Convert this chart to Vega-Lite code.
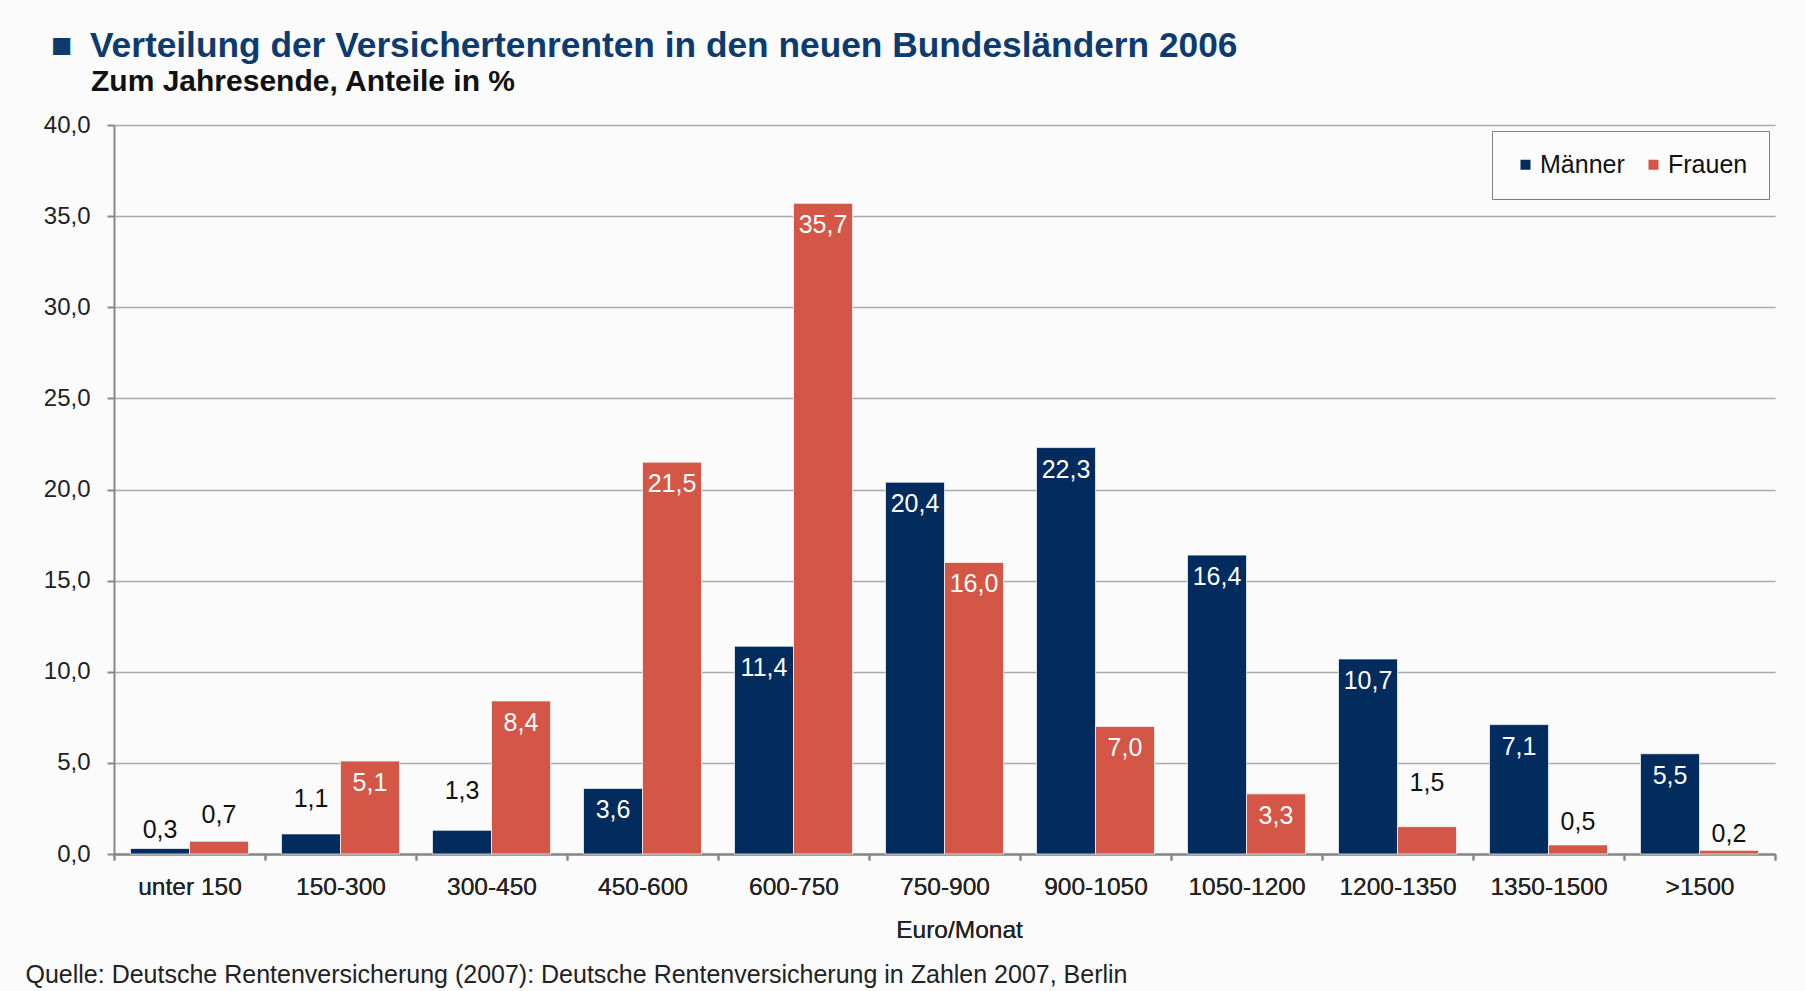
{
  "$schema": "https://vega.github.io/schema/vega-lite/v6.json",
  "width": 1661,
  "height": 729,
  "autosize": {"type": "none"},
  "padding": {"top": 125, "left": 114, "right": 30, "bottom": 137},
  "background": "#fbfbfb",
  "title": {
    "text": "■\u2002Verteilung der Versichertenrenten in den neuen Bundesländern 2006",
    "subtitle": "\u200b\u2003\u2004Zum Jahresende, Anteile in %",
    "anchor": "start",
    "frame": "group",
    "dx": -63,
    "offset": 16,
    "font": "Liberation Sans",
    "fontSize": 35.3,
    "fontWeight": "bold",
    "color": "#0d3b70",
    "subtitleFont": "Liberation Sans",
    "subtitleFontSize": 30,
    "subtitleFontWeight": "bold",
    "subtitleColor": "#111111",
    "subtitlePadding": 3
  },
  "data": {
    "values": [
      {"k": "unter 150", "g": "Männer", "v": 0.3},
      {"k": "unter 150", "g": "Frauen", "v": 0.7},
      {"k": "150-300", "g": "Männer", "v": 1.1},
      {"k": "150-300", "g": "Frauen", "v": 5.1},
      {"k": "300-450", "g": "Männer", "v": 1.3},
      {"k": "300-450", "g": "Frauen", "v": 8.4},
      {"k": "450-600", "g": "Männer", "v": 3.6},
      {"k": "450-600", "g": "Frauen", "v": 21.5},
      {"k": "600-750", "g": "Männer", "v": 11.4},
      {"k": "600-750", "g": "Frauen", "v": 35.7},
      {"k": "750-900", "g": "Männer", "v": 20.4},
      {"k": "750-900", "g": "Frauen", "v": 16.0},
      {"k": "900-1050", "g": "Männer", "v": 22.3},
      {"k": "900-1050", "g": "Frauen", "v": 7.0},
      {"k": "1050-1200", "g": "Männer", "v": 16.4},
      {"k": "1050-1200", "g": "Frauen", "v": 3.3},
      {"k": "1200-1350", "g": "Männer", "v": 10.7},
      {"k": "1200-1350", "g": "Frauen", "v": 1.5},
      {"k": "1350-1500", "g": "Männer", "v": 7.1},
      {"k": "1350-1500", "g": "Frauen", "v": 0.5},
      {"k": ">1500", "g": "Männer", "v": 5.5},
      {"k": ">1500", "g": "Frauen", "v": 0.2}
    ]
  },
  "encoding": {
    "x": {
      "field": "k",
      "type": "nominal",
      "scale": {
        "domain": ["unter 150", "150-300", "300-450", "450-600", "600-750", "750-900", "900-1050", "1050-1200", "1200-1350", "1350-1500", ">1500"],
        "paddingInner": 0,
        "paddingOuter": 0
      },
      "axis": {
        "orient": "bottom",
        "title": "Euro/Monat",
        "tickBand": "extent",
        "labelAngle": 0,
        "labelFontSize": 24.5,
        "labelColor": "#222222",
        "labelPadding": 15,
        "tickSize": 6,
        "tickColor": "#888888",
        "tickWidth": 2,
        "domainColor": "#888888",
        "domainWidth": 2,
        "grid": false,
        "titleFontSize": 24.5,
        "titleFontWeight": "normal",
        "titleColor": "#222222",
        "titleX": 845,
        "titleY": 83,
        "titleBaseline": "alphabetic"
      }
    },
    "xOffset": {
      "field": "g",
      "type": "nominal",
      "scale": {"domain": ["Männer", "Frauen"], "paddingOuter": 0.28, "paddingInner": 0}
    }
  },
  "layer": [
    {
      "mark": {"type": "bar", "stroke": "#ffffff", "strokeWidth": 1, "strokeOpacity": 0.7},
      "encoding": {
        "y": {
          "field": "v",
          "type": "quantitative",
          "scale": {"domain": [0, 40], "nice": false},
          "axis": {
            "values": [0, 5, 10, 15, 20, 25, 30, 35, 40],
            "format": ".1f",
            "title": null,
            "grid": true,
            "gridColor": "#aaaaaa",
            "gridWidth": 1.5,
            "domainColor": "#888888",
            "domainWidth": 2,
            "tickColor": "#888888",
            "tickWidth": 2,
            "tickSize": 7,
            "labelPadding": 17,
            "labelFontSize": 24,
            "labelColor": "#222222"
          }
        },
        "color": {
          "field": "g",
          "type": "nominal",
          "scale": {"domain": ["Männer", "Frauen"], "range": ["#022b5e", "#d45646"]},
          "legend": {
            "orient": "top-right",
            "direction": "horizontal",
            "title": null,
            "symbolType": "square",
            "symbolSize": 100,
            "symbolStrokeWidth": 0,
            "labelFontSize": 25,
            "labelColor": "#111111",
            "labelOffset": 2,
            "columnPadding": 16,
            "strokeColor": "#7f7f7f",
            "fillColor": "#fcfcfc",
            "padding": 21,
            "offset": 6
          }
        }
      }
    },
    {
      "transform": [{"filter": "datum.v >= 3"}],
      "mark": {"type": "text", "baseline": "middle", "dy": 22, "color": "#ffffff", "fontSize": 25},
      "encoding": {
        "y": {"field": "v", "type": "quantitative", "scale": {"domain": [0, 40], "nice": false}, "axis": null},
        "text": {"field": "v", "type": "quantitative", "format": ".1f"}
      }
    },
    {
      "transform": [{"filter": "datum.v < 3"}],
      "mark": {"type": "text", "baseline": "middle", "dy": -12, "color": "#111111", "fontSize": 25},
      "encoding": {
        "x": {
          "field": "k",
          "type": "nominal",
          "axis": {
            "orient": "bottom",
            "labels": false,
            "ticks": false,
            "domain": false,
            "grid": false,
            "title": "Quelle: Deutsche Rentenversicherung (2007): Deutsche Rentenversicherung in Zahlen 2007, Berlin",
            "titleX": -89,
            "titleY": 128,
            "titleAlign": "left",
            "titleAnchor": "start",
            "titleBaseline": "alphabetic",
            "titleFontSize": 25,
            "titleFontWeight": "normal",
            "titleColor": "#222222"
          }
        },
        "y": {"field": "v", "type": "quantitative", "scale": {"domain": [0, 18.6], "nice": false}, "axis": null},
        "text": {"field": "v", "type": "quantitative", "format": ".1f"}
      }
    }
  ],
  "resolve": {"scale": {"y": "independent"}, "axis": {"x": "independent"}},
  "config": {
    "font": "Liberation Sans",
    "view": {"stroke": null},
    "locale": {
      "number": {"decimal": ",", "thousands": ".", "grouping": [3], "currency": ["", " €"]}
    }
  }
}
